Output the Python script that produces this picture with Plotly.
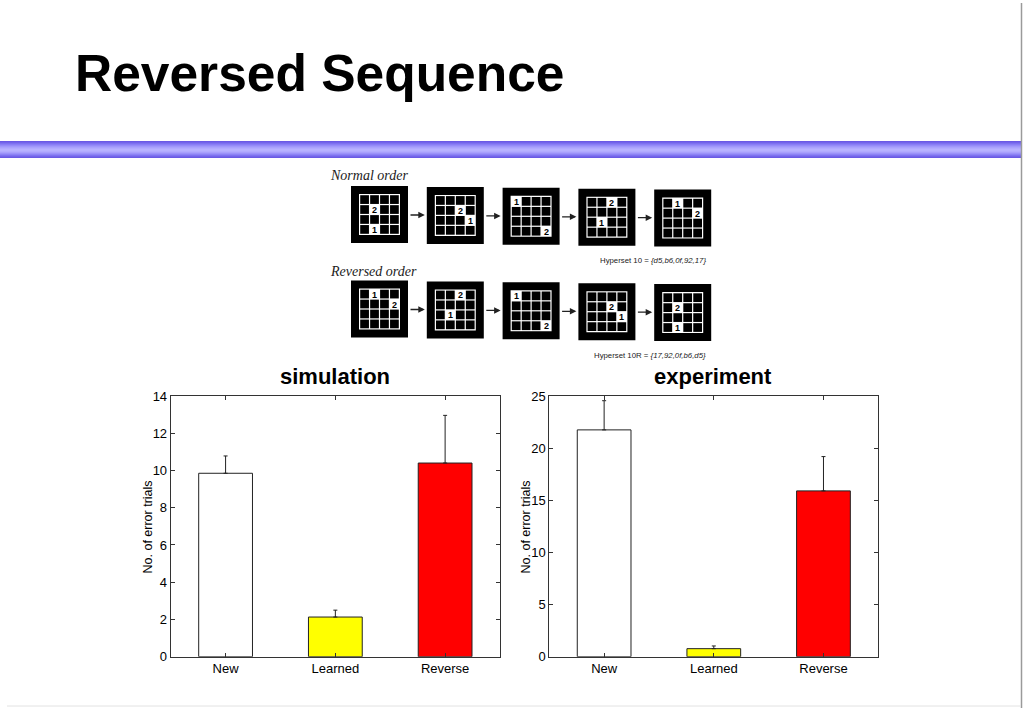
import plotly.graph_objects as go

# ---------------- data ----------------
categories = ["New", "Learned", "Reverse"]
sim_means = [9.85, 2.13, 10.4]
sim_err = [0.93, 0.37, 2.56]
exp_means = [21.75, 0.77, 15.9]
exp_err = [2.8, 0.26, 3.29]
sim_ticks = [0, 2, 4, 6, 8, 10, 12, 14]
exp_ticks = [0, 5, 10, 15, 20, 25]

# diagram: highlighted cells (row, col, label) for each frame
normal_frames = [
    [(1, 1, "2"), (3, 1, "1")],
    [(1, 2, "2"), (2, 3, "1")],
    [(0, 0, "1"), (3, 3, "2")],
    [(0, 2, "2"), (2, 1, "1")],
    [(0, 1, "1"), (1, 3, "2")],
]
reversed_frames = [
    [(0, 1, "1"), (1, 3, "2")],
    [(0, 2, "2"), (2, 1, "1")],
    [(0, 0, "1"), (3, 3, "2")],
    [(1, 2, "2"), (2, 3, "1")],
    [(1, 1, "2"), (3, 1, "1")],
]
row_labels = ["Normal order", "Reversed order"]
hyperset_labels = ["Hyperset 10 = <i>{d5,b6,0f,92,17}</i>",
                   "Hyperset 10R = <i>{17,92,0f,b6,d5}</i>"]

bar_colors = ["white", "yellow", "red"]

W, H = 1023, 708
FONT = "Liberation Sans, Arial, Helvetica, sans-serif"

def px(x):
    return x / W

def py(y):
    return 1 - y / H

fig = go.Figure()

fig.add_trace(go.Bar(
    x=categories, y=sim_means, width=0.49,
    marker=dict(color=bar_colors, line=dict(color="#222", width=1)),
    error_y=dict(type="data", array=sim_err, arrayminus=[0] * len(sim_err),
                 symmetric=False, color="#222", thickness=1, width=2),
    xaxis="x", yaxis="y", showlegend=False, hoverinfo="skip"))

fig.add_trace(go.Bar(
    x=categories, y=exp_means, width=0.49,
    marker=dict(color=bar_colors, line=dict(color="#222", width=1)),
    error_y=dict(type="data", array=exp_err, arrayminus=[0] * len(exp_err),
                 symmetric=False, color="#222", thickness=1, width=2),
    xaxis="x2", yaxis="y2", showlegend=False, hoverinfo="skip"))

axis_common = dict(showline=True, linecolor="#333", linewidth=1, mirror="ticks",
                   ticks="inside", ticklen=4, tickcolor="#333", showgrid=False,
                   zeroline=False, fixedrange=True, automargin=False,
                   tickfont=dict(family=FONT, size=13, color="black"))

y_top, y_bot = 396, 656.7
fig.update_layout(
    width=W, height=H, autosize=False, showlegend=False,
    margin=dict(l=0, r=0, t=0, b=0, pad=0, autoexpand=False),
    paper_bgcolor="white", plot_bgcolor="white",
    xaxis=dict(domain=[px(170.7), px(500)], anchor="y", type="category",
               range=[-0.5, 2.5], **axis_common),
    yaxis=dict(domain=[py(y_bot), py(y_top)], anchor="x", range=[0, 14],
               tickvals=sim_ticks, **axis_common),
    xaxis2=dict(domain=[px(549.3), px(878.3)], anchor="y2", type="category",
                range=[-0.5, 2.5], **axis_common),
    yaxis2=dict(domain=[py(y_bot), py(y_top)], anchor="x2", range=[0, 25],
                tickvals=exp_ticks, **axis_common),
    xaxis3=dict(domain=[px(320), px(720)], anchor="y3", range=[320, 720],
                visible=False, fixedrange=True, automargin=False),
    yaxis3=dict(domain=[py(365), py(160)], anchor="x3", range=[365, 160],
                visible=False, fixedrange=True, automargin=False),
)

shapes = []
annotations = []

# slide title
annotations.append(dict(text="<b>Reversed Sequence</b>", x=px(73), y=py(73),
                        xref="paper", yref="paper", xanchor="left", yanchor="middle",
                        showarrow=False, font=dict(family=FONT, size=51.5, color="black")))

# gradient bar
grad = ["#6a59e4", "#7263ea", "#7d70f0", "#897ef5", "#958bf8", "#a098fb", "#aaa2fd",
        "#b2abfe", "#b8b2ff", "#b8b2ff", "#b2abfe", "#a8a0fc", "#9b92f9", "#8d83f5",
        "#7f72f0", "#7364ea", "#6a5ae4"]
for i, c in enumerate(grad):
    shapes.append(dict(type="rect", xref="paper", yref="paper",
                       x0=0, x1=px(1021), y0=py(141 + i + 1), y1=py(141 + i),
                       fillcolor=c, line=dict(width=0), layer="below"))

# page edge lines
shapes.append(dict(type="line", xref="paper", yref="paper", x0=px(1021.5), x1=px(1021.5),
                   y0=py(3), y1=py(708), line=dict(color="#9a9a9a", width=1.5)))
shapes.append(dict(type="line", xref="paper", yref="paper", x0=px(7), x1=px(1021),
                   y0=py(706), y1=py(706), line=dict(color="#e2e2e2", width=1)))

# chart titles and y-axis titles
for label, cx in [("simulation", 335), ("experiment", 713)]:
    annotations.append(dict(text="<b>" + label + "</b>", x=px(cx), y=py(377),
                            xref="paper", yref="paper", xanchor="center", yanchor="middle",
                            showarrow=False, font=dict(family=FONT, size=22, color="black")))
for cx in [147.5, 525.5]:
    annotations.append(dict(text="No. of error trials", x=px(cx), y=py(527),
                            xref="paper", yref="paper", xanchor="center", yanchor="middle",
                            textangle=-90, showarrow=False,
                            font=dict(family=FONT, size=12.5, color="black")))

# diagram
frame_size = 57
frame_step = 75.8
frame_left0 = 351
row_tops = [186, 280.5]
label_y = [175, 271]
hyper_y = [260, 355]
gx0, gsize = 8, 41
line_w = 1.2
pitch = (gsize - line_w) / 4

for r, frames in enumerate([normal_frames, reversed_frames]):
    annotations.append(dict(text="<i>" + row_labels[r] + "</i>", x=328, y=label_y[r],
                            xref="x3", yref="y3", xanchor="left", yanchor="middle",
                            showarrow=False,
                            font=dict(family="Liberation Serif, DejaVu Serif, serif",
                                      size=14, color="#222")))
    annotations.append(dict(text=hyperset_labels[r], x=708, y=hyper_y[r],
                            xref="x3", yref="y3", xanchor="right", yanchor="middle",
                            showarrow=False, font=dict(family=FONT, size=7.8, color="#222")))
    for i, cells in enumerate(frames):
        fx = frame_left0 + i * frame_step
        fy = row_tops[r] + i * 0.9
        shapes.append(dict(type="rect", xref="x3", yref="y3", x0=fx, x1=fx + frame_size,
                           y0=fy, y1=fy + frame_size, fillcolor="black",
                           line=dict(width=0)))
        shapes.append(dict(type="rect", xref="x3", yref="y3", x0=fx + gx0,
                           x1=fx + gx0 + gsize, y0=fy + gx0, y1=fy + gx0 + gsize,
                           fillcolor="white", line=dict(width=0)))
        lit = {(rr, cc): lab for rr, cc, lab in cells}
        for rr in range(4):
            for cc in range(4):
                cx0 = fx + gx0 + line_w + cc * pitch
                cy0 = fy + gx0 + line_w + rr * pitch
                cw = pitch - line_w
                if (rr, cc) in lit:
                    annotations.append(dict(text="<b>" + lit[(rr, cc)] + "</b>",
                                            x=cx0 + cw / 2, y=cy0 + cw / 2 + 0.5,
                                            xref="x3", yref="y3", showarrow=False,
                                            xanchor="center", yanchor="middle",
                                            font=dict(family=FONT, size=9, color="black")))
                else:
                    shapes.append(dict(type="rect", xref="x3", yref="y3", x0=cx0,
                                       x1=cx0 + cw, y0=cy0, y1=cy0 + cw,
                                       fillcolor="black", line=dict(width=0)))
        if i < len(frames) - 1:
            ay = fy + frame_size / 2 + 0.5
            annotations.append(dict(x=fx + frame_step - 2, y=ay, ax=fx + frame_size + 1, ay=ay,
                                    xref="x3", yref="y3", axref="x3", ayref="y3",
                                    text="", showarrow=True, arrowhead=2, arrowsize=1,
                                    arrowwidth=1.3, arrowcolor="#222"))

fig.update_layout(shapes=shapes, annotations=annotations)

fig.write_html("out.html", config={"displayModeBar": False},
               post_script="document.body.style.margin='0';document.body.style.overflow='hidden';")
